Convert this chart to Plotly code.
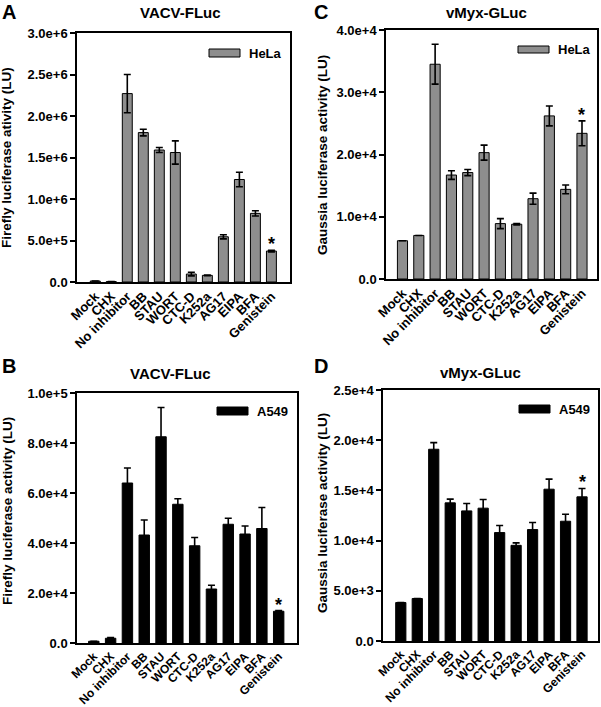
import plotly.graph_objects as go

categories = ["Mock", "CHX", "No inhibitor", "BB", "STAU", "WORT", "CTC-D",
              "K252a", "AG17", "EIPA", "BFA", "Genistein"]

# Panel A: VACV-FLuc in HeLa
hela_fluc = [1.2e4, 5e3, 2.27e6, 1.80e6, 1.59e6, 1.56e6, 0.096e6, 0.08e6,
             0.545e6, 1.235e6, 0.827e6, 0.373e6]
hela_fluc_err = [None, None, 0.23e6, 0.04e6, 0.03e6, 0.14e6, 0.022e6, 0.005e6,
                 0.025e6, 0.088e6, 0.032e6, 0.01e6]
hela_fluc_ticks = ["0.0", "5.0e+5", "1.0e+6", "1.5e+6", "2.0e+6", "2.5e+6", "3.0e+6"]
hela_fluc_tickvals = [0, 5e5, 1e6, 1.5e6, 2e6, 2.5e6, 3e6]

# Panel B: VACV-FLuc in A549
a549_fluc = [700, 1900, 6.40e4, 4.32e4, 8.25e4, 5.55e4, 3.89e4, 2.16e4,
             4.75e4, 4.36e4, 4.58e4, 1.27e4]
a549_fluc_err = [None, 300, 0.6e4, 0.6e4, 1.17e4, 0.22e4, 0.33e4, 0.15e4,
                 0.24e4, 0.32e4, 0.84e4, 300]
a549_fluc_ticks = ["0.0", "2.0e+4", "4.0e+4", "6.0e+4", "8.0e+4", "1.0e+5"]
a549_fluc_tickvals = [0, 2e4, 4e4, 6e4, 8e4, 1e5]

# Panel C: vMyx-GLuc in HeLa
hela_gluc = [6.15e3, 7.0e3, 3.45e4, 1.67e4, 1.71e4, 2.03e4, 0.89e4, 0.88e4,
             1.29e4, 2.62e4, 1.44e4, 2.34e4]
hela_gluc_err = [None, None, 3.2e3, 0.7e3, 0.5e3, 1.2e3, 0.8e3, 0.1e3,
                 0.9e3, 1.6e3, 0.7e3, 2.0e3]
hela_gluc_ticks = ["0.0", "1.0e+4", "2.0e+4", "3.0e+4", "4.0e+4"]
hela_gluc_tickvals = [0, 1e4, 2e4, 3e4, 4e4]

# Panel D: vMyx-GLuc in A549
a549_gluc = [3.83e3, 4.23e3, 1.91e4, 1.376e4, 1.296e4, 1.323e4, 1.08e4, 0.953e4,
             1.11e4, 1.512e4, 1.193e4, 1.436e4]
a549_gluc_err = [None, None, 660, 370, 730, 860, 700, 240, 700, 1000, 700, 830]
a549_gluc_ticks = ["0.0", "5.0e+3", "1.0e+4", "1.5e+4", "2.0e+4", "2.5e+4"]
a549_gluc_tickvals = [0, 5e3, 1e4, 1.5e4, 2e4, 2.5e4]

significant = ["Genistein"]

W, H = 601, 707
FONT = "Liberation Sans, Arial, sans-serif"
GREY = "#8e8e8e"


def px(x):
    return x / W


def py(y):
    return 1 - y / H


def bfont(size):
    return dict(family=FONT, size=size, color="black", weight="bold")


panels = [
    dict(letter="A", title="VACV-FLuc", ytitle="Firefly luciferase ativity (LU)",
         vals=hela_fluc, errs=hela_fluc_err, tv=hela_fluc_tickvals, tt=hela_fluc_ticks,
         ymax=3e6, color=GREY, cell="HeLa", box=(77, 290, 33, 282), xr=(-1.14, 12.16),
         tpos=(180, 12), lpos=(9, 12), leg=(209, 240, 49, 57), ytpos=(7, 158), xfs=13),
    dict(letter="C", title="vMyx-GLuc", ytitle="Gaussia luciferase activity (LU)",
         vals=hela_gluc, errs=hela_gluc_err, tv=hela_gluc_tickvals, tt=hela_gluc_ticks,
         ymax=4e4, color=GREY, cell="HeLa", box=(386, 597, 30, 279), xr=(-1.01, 11.92),
         tpos=(487, 13), lpos=(321, 12), leg=(518, 549, 46, 53), ytpos=(322, 155), xfs=13),
    dict(letter="B", title="VACV-FLuc", ytitle="Firefly luciferase activity (LU)",
         vals=a549_fluc, errs=a549_fluc_err, tv=a549_fluc_tickvals, tt=a549_fluc_ticks,
         ymax=1e5, color="black", cell="A549", box=(77, 297, 393, 643), xr=(-1.0, 12.09),
         tpos=(170, 374), lpos=(9, 366), leg=(217, 248, 407, 415), ytpos=(7, 511), xfs=12),
    dict(letter="D", title="vMyx-GLuc", ytitle="Gaussia luciferase activity (LU)",
         vals=a549_gluc, errs=a549_gluc_err, tv=a549_gluc_tickvals, tt=a549_gluc_ticks,
         ymax=2.5e4, color="black", cell="A549", box=(383, 598, 390, 641), xr=(-1.08, 11.97),
         tpos=(480, 372), lpos=(321, 366), leg=(519, 550, 405, 413), ytpos=(322, 513), xfs=12),
]

fig = go.Figure()
annotations = []
shapes = []
layout = {}

for i, p in enumerate(panels):
    n = "" if i == 0 else str(i + 1)
    xa, ya = "x" + n, "y" + n
    fig.add_trace(go.Bar(
        x=categories, y=p["vals"], xaxis=xa, yaxis=ya, width=0.62,
        marker=dict(color=p["color"], line=dict(color="black", width=1)),
        error_y=dict(type="data", array=p["errs"], visible=True, color="black",
                     thickness=1.6, width=3.5),
        showlegend=False, name=p["cell"],
    ))
    x0, x1, yt, yb = p["box"]
    layout["xaxis" + n] = dict(
        domain=[px(x0), px(x1)], anchor=ya, range=list(p["xr"]),
        showline=True, linecolor="black", linewidth=1.5, mirror=True,
        ticks="", tickangle=-45, tickfont=bfont(p["xfs"]),
        tickmode="array", tickvals=categories, ticktext=categories,
        showgrid=False, zeroline=False, fixedrange=True, automargin=False,
    )
    layout["yaxis" + n] = dict(
        domain=[py(yb), py(yt)], anchor=xa, range=[0, p["ymax"]],
        tickvals=p["tv"], ticktext=p["tt"],
        showline=True, linecolor="black", linewidth=1.5, mirror=True,
        ticks="outside", ticklen=5, tickwidth=1.5, tickcolor="black",
        tickfont=bfont(13), showgrid=False, zeroline=False, automargin=False,
    )
    # y-axis title
    annotations.append(dict(text=p["ytitle"], xref="paper", yref="paper",
                            x=px(p["ytpos"][0]), y=py(p["ytpos"][1]), showarrow=False,
                            textangle=-90, xanchor="center", yanchor="middle",
                            font=bfont(13.5)))
    # title
    annotations.append(dict(text=p["title"], xref="paper", yref="paper",
                            x=px(p["tpos"][0]), y=py(p["tpos"][1]), showarrow=False,
                            xanchor="center", yanchor="middle", font=bfont(15)))
    # letter
    annotations.append(dict(text=p["letter"], xref="paper", yref="paper",
                            x=px(p["lpos"][0]), y=py(p["lpos"][1]), showarrow=False,
                            xanchor="center", yanchor="middle", font=bfont(20)))
    # legend swatch and label
    lx0, lx1, ly0, ly1 = p["leg"]
    shapes.append(dict(type="rect", xref="paper", yref="paper",
                       x0=px(lx0), x1=px(lx1), y0=py(ly1), y1=py(ly0),
                       fillcolor=p["color"], line=dict(color="black", width=1)))
    annotations.append(dict(text=p["cell"], xref="paper", yref="paper",
                            x=px(lx1 + 7), y=py((ly0 + ly1) / 2), showarrow=False,
                            xanchor="left", yanchor="middle", font=bfont(13)))
    # significance asterisks
    for c in significant:
        k = categories.index(c)
        top = p["vals"][k] + (p["errs"][k] or 0)
        annotations.append(dict(text="*", xref=xa, yref=ya, x=c, y=top,
                                showarrow=False, xanchor="center", yanchor="bottom",
                                yshift=-6, font=bfont(18)))

fig.update_layout(
    width=W, height=H, margin=dict(l=0, r=0, t=0, b=0, autoexpand=False),
    plot_bgcolor="white", paper_bgcolor="white",
    annotations=annotations, shapes=shapes, bargap=0.4,
    **layout,
)

fig.write_html("out.html", config={"displayModeBar": False},
               post_script="document.body.style.margin='0';document.body.style.overflow='hidden';")
